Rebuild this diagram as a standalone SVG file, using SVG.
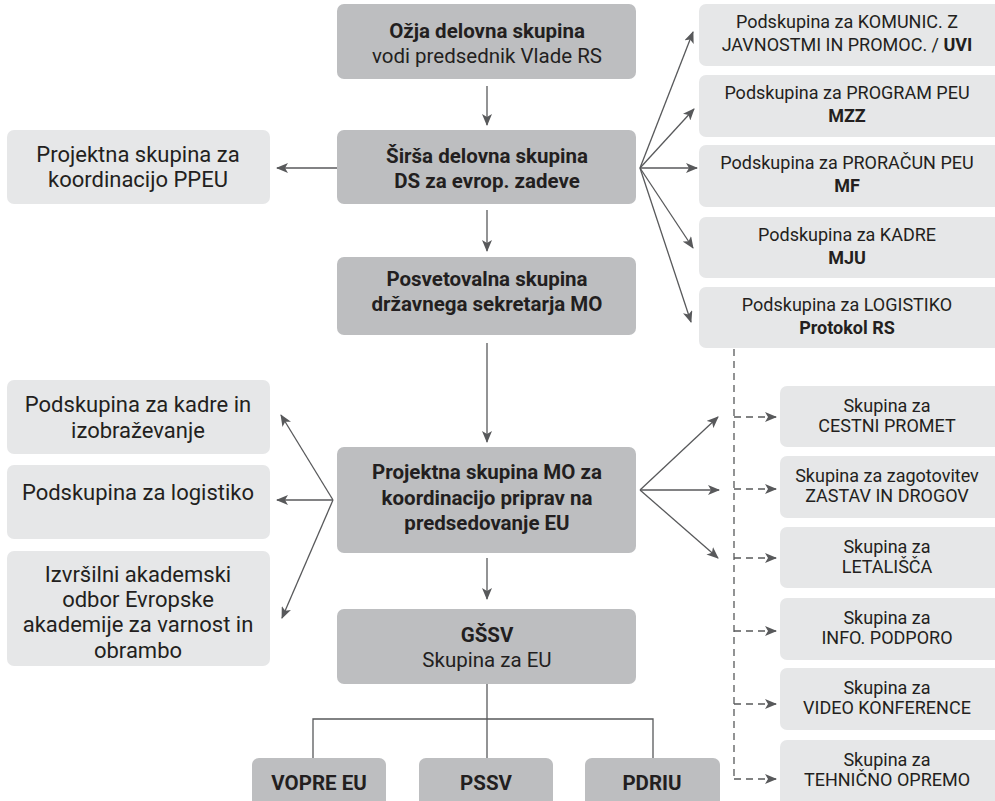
<svg xmlns="http://www.w3.org/2000/svg" width="995" height="801" viewBox="0 0 995 801">
<defs>
<style>
.dk{fill:#bdbec0}
.lt{fill:#e6e7e8}
text{font-family:Roboto,"Open Sans","Liberation Sans",sans-serif;fill:#231f20;text-anchor:middle}
.b{font-weight:bold;font-size:20.5px}
.r{font-size:20.5px}
.l{font-size:22px}
.s{font-size:18px}
.ln{stroke:#58595b;stroke-width:1.3;fill:none}
.da{stroke:#58595b;stroke-width:1.3;fill:none;stroke-dasharray:7,5}
</style>
<marker id="ah" markerWidth="12" markerHeight="10" refX="11" refY="5" orient="auto" markerUnits="userSpaceOnUse">
<path d="M0,0 L12,5 L0,10 L3,5 Z" fill="#58595b"/>
</marker>
</defs>

<g id="connectors">
<line class="ln" x1="487" y1="86" x2="487" y2="125" marker-end="url(#ah)"/>
<line class="ln" x1="487" y1="210" x2="487" y2="251" marker-end="url(#ah)"/>
<line class="ln" x1="487" y1="343" x2="487" y2="442" marker-end="url(#ah)"/>
<line class="ln" x1="487" y1="558" x2="487" y2="599" marker-end="url(#ah)"/>
<line class="ln" x1="337" y1="168" x2="277" y2="168" marker-end="url(#ah)"/>
<line class="ln" x1="640" y1="168" x2="693" y2="32" marker-end="url(#ah)"/>
<line class="ln" x1="640" y1="168" x2="694" y2="109" marker-end="url(#ah)"/>
<line class="ln" x1="640" y1="168" x2="697" y2="168" marker-end="url(#ah)"/>
<line class="ln" x1="640" y1="168" x2="693" y2="248" marker-end="url(#ah)"/>
<line class="ln" x1="640" y1="168" x2="691" y2="322" marker-end="url(#ah)"/>
<line class="ln" x1="333" y1="500" x2="281" y2="415" marker-end="url(#ah)"/>
<line class="ln" x1="333" y1="500" x2="277" y2="500" marker-end="url(#ah)"/>
<line class="ln" x1="333" y1="500" x2="282" y2="618" marker-end="url(#ah)"/>
<line class="ln" x1="640" y1="490" x2="718" y2="417" marker-end="url(#ah)"/>
<line class="ln" x1="640" y1="490" x2="719" y2="490" marker-end="url(#ah)"/>
<line class="ln" x1="640" y1="490" x2="718" y2="558" marker-end="url(#ah)"/>
<line class="da" x1="734" y1="349" x2="734" y2="779"/>
<line class="da" x1="734" y1="417" x2="776" y2="417" marker-end="url(#ah)"/>
<line class="da" x1="734" y1="489" x2="776" y2="489" marker-end="url(#ah)"/>
<line class="da" x1="734" y1="558" x2="776" y2="558" marker-end="url(#ah)"/>
<line class="da" x1="734" y1="631" x2="776" y2="631" marker-end="url(#ah)"/>
<line class="da" x1="734" y1="704" x2="776" y2="704" marker-end="url(#ah)"/>
<line class="da" x1="734" y1="779" x2="776" y2="779" marker-end="url(#ah)"/>
<polyline class="ln" points="313,758 313,719 653,719 653,758"/>
<line class="ln" x1="487" y1="684" x2="487" y2="758"/>
</g>

<g id="n1"><rect class="dk" x="337" y="4" width="299" height="75" rx="7"/>
<text class="b" x="487" y="38">Ožja delovna skupina</text>
<text class="r" x="487" y="63">vodi predsednik Vlade RS</text></g>

<g id="n2"><rect class="dk" x="337" y="130" width="299" height="74" rx="7"/>
<text class="b" x="487" y="163">Širša delovna skupina</text>
<text class="b" x="487" y="188">DS za evrop. zadeve</text></g>

<g id="n3"><rect class="dk" x="337" y="257" width="299" height="78" rx="7"/>
<text class="b" x="487" y="286">Posvetovalna skupina</text>
<text class="b" x="487" y="311">državnega sekretarja MO</text></g>

<g id="n4"><rect class="dk" x="337" y="447" width="299" height="106" rx="7"/>
<text class="b" x="487" y="479">Projektna skupina MO za</text>
<text class="b" x="487" y="505">koordinacijo priprav na</text>
<text class="b" x="487" y="530">predsedovanje EU</text></g>

<g id="n5"><rect class="dk" x="337" y="609" width="299" height="75" rx="7"/>
<text class="b" x="487" y="642">GŠSV</text>
<text class="r" x="487" y="667">Skupina za EU</text></g>

<g id="n6"><rect class="dk" x="252" y="758" width="134" height="60" rx="7"/>
<text class="b" x="319" y="790">VOPRE EU</text></g>
<g id="n7"><rect class="dk" x="419" y="758" width="134" height="60" rx="7"/>
<text class="b" x="486" y="790">PSSV</text></g>
<g id="n8"><rect class="dk" x="585" y="758" width="135" height="60" rx="7"/>
<text class="b" x="652" y="790">PDRIU</text></g>

<g id="l1"><rect class="lt" x="7" y="130" width="263" height="74" rx="7"/>
<text class="l" x="138" y="162">Projektna skupina za</text>
<text class="l" x="138" y="187">koordinacijo PPEU</text></g>
<g id="l2"><rect class="lt" x="7" y="380" width="263" height="74" rx="7"/>
<text class="l" x="138" y="412">Podskupina za kadre in</text>
<text class="l" x="138" y="438">izobraževanje</text></g>
<g id="l3"><rect class="lt" x="7" y="465" width="263" height="74" rx="7"/>
<text class="l" x="138" y="500">Podskupina za logistiko</text></g>
<g id="l4"><rect class="lt" x="7" y="551" width="263" height="115" rx="7"/>
<text class="l" x="138" y="582">Izvršilni akademski</text>
<text class="l" x="138" y="607">odbor Evropske</text>
<text class="l" x="138" y="632">akademije za varnost in</text>
<text class="l" x="138" y="658">obrambo</text></g>

<g id="r1"><rect class="lt" x="699" y="4" width="306" height="62" rx="7"/>
<text class="s" x="847" y="28">Podskupina za KOMUNIC. Z</text>
<text class="s" x="847" y="51">JAVNOSTMI IN PROMOC. / <tspan font-weight="bold">UVI</tspan></text></g>
<g id="r2"><rect class="lt" x="699" y="75" width="306" height="62" rx="7"/>
<text class="s" x="847" y="99">Podskupina za PROGRAM PEU</text>
<text class="s" x="847" y="122" font-weight="bold">MZZ</text></g>
<g id="r3"><rect class="lt" x="699" y="145" width="306" height="62" rx="7"/>
<text class="s" x="847" y="169">Podskupina za PRORAČUN PEU</text>
<text class="s" x="847" y="192" font-weight="bold">MF</text></g>
<g id="r4"><rect class="lt" x="699" y="217" width="306" height="61" rx="7"/>
<text class="s" x="847" y="241">Podskupina za KADRE</text>
<text class="s" x="847" y="264" font-weight="bold">MJU</text></g>
<g id="r5"><rect class="lt" x="699" y="287" width="306" height="61" rx="7"/>
<text class="s" x="847" y="311">Podskupina za LOGISTIKO</text>
<text class="s" x="847" y="334" font-weight="bold">Protokol RS</text></g>

<g id="s1"><rect class="lt" x="780" y="386" width="225" height="61" rx="7"/>
<text class="s" x="887" y="412">Skupina za</text>
<text class="s" x="887" y="432">CESTNI PROMET</text></g>
<g id="s2"><rect class="lt" x="780" y="456" width="225" height="62" rx="7"/>
<text class="s" x="887" y="482">Skupina za zagotovitev</text>
<text class="s" x="887" y="502">ZASTAV IN DROGOV</text></g>
<g id="s3"><rect class="lt" x="780" y="527" width="225" height="61" rx="7"/>
<text class="s" x="887" y="553">Skupina za</text>
<text class="s" x="887" y="573">LETALIŠČA</text></g>
<g id="s4"><rect class="lt" x="780" y="598" width="225" height="62" rx="7"/>
<text class="s" x="887" y="624">Skupina za</text>
<text class="s" x="887" y="644">INFO. PODPORO</text></g>
<g id="s5"><rect class="lt" x="780" y="668" width="225" height="62" rx="7"/>
<text class="s" x="887" y="694">Skupina za</text>
<text class="s" x="887" y="714">VIDEO KONFERENCE</text></g>
<g id="s6"><rect class="lt" x="780" y="740" width="225" height="70" rx="7"/>
<text class="s" x="887" y="766">Skupina za</text>
<text class="s" x="887" y="786">TEHNIČNO OPREMO</text></g>
</svg>
